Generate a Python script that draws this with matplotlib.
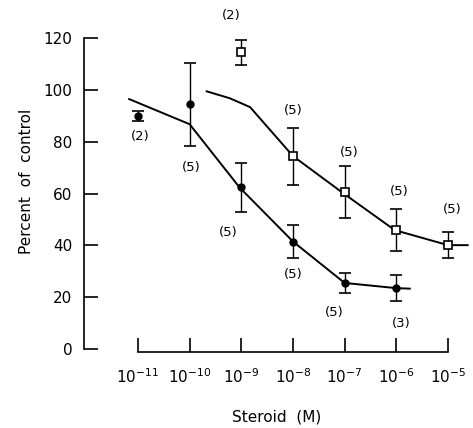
import matplotlib.pyplot as plt
import numpy as np

# ---------------------------------------------------------------------------
# Data (log10 of molar concentration, percent of control)
# ---------------------------------------------------------------------------
FILLED_LOGC = [-11, -10, -9, -8, -7, -6]
FILLED_MEAN = [90, 94.5, 62.5, 41.5, 25.5, 23.5]
FILLED_ERR = [2, 16, 9.5, 6.5, 4, 5]
FILLED_N = ["(2)", "(5)", "(5)", "(5)", "(5)", "(3)"]

OPEN_LOGC = [-9, -8, -7, -6, -5]
OPEN_MEAN = [114.5, 74.5, 60.5, 46, 40.2]
OPEN_ERR = [5, 11, 10, 8, 5]
OPEN_N = ["(2)", "(5)", "(5)", "(5)", "(5)"]

# fitted curves
FILLED_FIT_LOGC = [-11.17, -10.0, -9.03, -8.0, -7.0, -6.0, -5.74]
FILLED_FIT_VAL = [96.5, 86.8, 62.3, 41.5, 25.5, 23.5, 23.3]
OPEN_FIT_LOGC = [-9.67, -9.22, -8.83, -8.0, -7.03, -6.03, -5.0, -4.62]
OPEN_FIT_VAL = [99.5, 96.8, 93.4, 74.5, 60.2, 45.9, 40.1, 40.1]

X_TICKS = [-11, -10, -9, -8, -7, -6, -5]
Y_TICKS = [0, 20, 40, 60, 80, 100, 120]

# label offsets (pixels) for the "(n)" annotations
FILLED_N_OFF = [(2, -21), (2, -63), (-13, -45), (0, -33), (-10, -30), (5, -35)]
OPEN_N_OFF = [(-10, 37), (0, 46), (5, 40), (3, 38), (4, 35)]

# ---------------------------------------------------------------------------
fig = plt.figure(figsize=(4.73, 4.28), dpi=100)
ax = fig.add_axes([84 / 473, 76 / 428, 386 / 473, 342 / 428])

ax.plot(10.0 ** np.array(FILLED_FIT_LOGC), FILLED_FIT_VAL, color="black", lw=1.4)
ax.plot(10.0 ** np.array(OPEN_FIT_LOGC), OPEN_FIT_VAL, color="black", lw=1.4)

ax.errorbar(10.0 ** np.array(FILLED_LOGC), FILLED_MEAN, yerr=FILLED_ERR,
            fmt="o", color="black", ms=5, capsize=4.5, elinewidth=1.0,
            capthick=1.2, zorder=3)
ax.errorbar(10.0 ** np.array(OPEN_LOGC), OPEN_MEAN, yerr=OPEN_ERR,
            fmt="s", color="black", mfc="white", mec="black", ms=6, mew=1.2,
            capsize=4.5, elinewidth=1.0, capthick=1.2, zorder=3)

for lc, m, lab, off in zip(FILLED_LOGC, FILLED_MEAN, FILLED_N, FILLED_N_OFF):
    ax.annotate(lab, (10.0 ** lc, m), xytext=off, textcoords="offset pixels",
                ha="center", va="center", fontsize=9.5)
for lc, m, lab, off in zip(OPEN_LOGC, OPEN_MEAN, OPEN_N, OPEN_N_OFF):
    ax.annotate(lab, (10.0 ** lc, m), xytext=off, textcoords="offset pixels",
                ha="center", va="center", fontsize=9.5, annotation_clip=False)

ax.set_xscale("log")
ax.set_xlim(10.0 ** -12.044, 10.0 ** -4.574)
ax.set_ylim(-1.16, 130.9)

ax.spines["top"].set_visible(False)
ax.spines["right"].set_visible(False)
ax.spines["left"].set_bounds(0, 120)
ax.spines["bottom"].set_bounds(1e-11, 1e-5)
for s in ("left", "bottom"):
    ax.spines[s].set_linewidth(1.2)

ax.set_yticks(Y_TICKS)
ax.set_yticklabels([str(v) for v in Y_TICKS])
ax.set_xticks([10.0 ** v for v in X_TICKS])
ax.set_xticklabels([f"$10^{{{v}}}$" for v in X_TICKS])
ax.xaxis.set_minor_locator(plt.NullLocator())
ax.tick_params(axis="y", direction="in", length=10, width=1.2, pad=8.5,
               labelsize=11)
ax.tick_params(axis="x", direction="in", length=10, width=1.2, pad=11,
               labelsize=11)

ax.set_xlabel("Steroid  (M)", fontsize=11, labelpad=17)
ax.set_ylabel("Percent  of  control", fontsize=11, labelpad=7)

plt.savefig("out.png", dpi=100)
